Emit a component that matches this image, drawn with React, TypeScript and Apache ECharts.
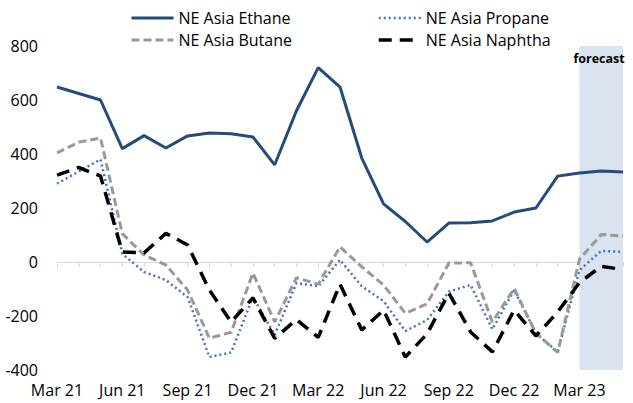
import React, { useEffect, useRef } from "react";
import * as echarts from "echarts";

const categories = [
  "Mar 21", "Apr 21", "May 21", "Jun 21", "Jul 21", "Aug 21", "Sep 21", "Oct 21", "Nov 21",
  "Dec 21", "Jan 22", "Feb 22", "Mar 22", "Apr 22", "May 22", "Jun 22", "Jul 22", "Aug 22",
  "Sep 22", "Oct 22", "Nov 22", "Dec 22", "Jan 23", "Feb 23", "Mar 23", "Apr 23", "May 23",
];

const ethane = [648, 624, 600, 420, 468, 422, 467, 478, 475, 463, 360, 560, 720, 648, 385, 215, 150, 74, 144, 145, 152, 185, 200, 318, 330, 337, 333];
const propane = [290, 335, 380, 30, -37, -67, -130, -352, -335, -130, -270, -78, -90, 8, -90, -145, -256, -215, -110, -85, -249, -104, -264, -333, -30, 41, 37];
const butane = [404, 444, 459, 105, 26, -11, -104, -282, -260, -41, -222, -58, -82, 56, -18, -85, -190, -155, -4, -3, -222, -98, -264, -335, 10, 102, 96];
const naphtha = [322, 350, 318, 37, 34, 106, 63, -104, -222, -133, -283, -213, -279, -82, -252, -178, -352, -266, -115, -259, -333, -178, -274, -185, -76, -16, -28];

const forecastStart = "Mar 23";
const forecastEnd = "May 23";
const yTicks = { min: -400, max: 800, interval: 200 };

const FONT = "'Open Sans', sans-serif";

export default function App() {
  const ref = useRef<HTMLDivElement>(null);
  useEffect(() => {
    if (!ref.current) return;
    const chart = echarts.init(ref.current, null, { renderer: "svg" });
    const legendCommon = {
      orient: "vertical" as const,
      top: 5,
      itemWidth: 42,
      itemHeight: 14,
      itemGap: 6,
      itemStyle: { color: "transparent", borderColor: "transparent", borderWidth: 0, opacity: 0 },
      lineStyle: { width: "inherit" },
      textStyle: { fontFamily: FONT, fontSize: 16, color: "#000" },
      selectedMode: false,
    };
    chart.setOption({
      animation: false,
      textStyle: { fontFamily: FONT },
      legend: [
        { ...legendCommon, left: 125, data: ["NE Asia Ethane", "NE Asia Butane"] },
        { ...legendCommon, left: 372, data: ["NE Asia Propane", "NE Asia Naphtha"] },
      ],
      grid: { left: 57, right: 10, top: 46, bottom: 33, containLabel: false },
      xAxis: [
        {
          type: "category",
          data: categories,
          boundaryGap: false,
          position: "bottom",
          axisLine: { show: false, onZero: false },
          axisTick: { show: false },
          axisLabel: { interval: 2, fontSize: 16, color: "#000", fontFamily: FONT, margin: 12 },
        },
        {
          type: "category",
          data: categories,
          boundaryGap: false,
          position: "top",
          axisLine: { show: true, onZero: true, lineStyle: { color: "#D9D9D9", width: 1 } },
          axisTick: { show: true, interval: 0, inside: true, length: 5, lineStyle: { color: "#D9D9D9" } },
          axisLabel: { show: false },
        },
      ],
      yAxis: {
        type: "value",
        min: yTicks.min,
        max: yTicks.max,
        interval: yTicks.interval,
        axisLine: { show: false },
        axisTick: { show: false },
        splitLine: { show: false },
        axisLabel: { fontSize: 16, color: "#000", fontFamily: FONT, margin: 19 },
      },
      graphic: [
        {
          type: "text",
          x: 599,
          y: 52,
          style: { text: "forecast", font: `bold 12.5px ${FONT}`, fill: "#000", align: "center" },
          z: 10,
        },
      ],
      series: [
        {
          type: "line",
          name: "forecastArea",
          data: [],
          clip: false,
          z: 1,
          markArea: {
            silent: true,
            itemStyle: { color: "#DAE3F0" },
            data: [[{ xAxis: forecastStart, yAxis: 815 }, { xAxis: forecastEnd, yAxis: yTicks.min }]],
          },
        },
        {
          type: "line",
          name: "NE Asia Ethane",
          data: ethane,
          symbol: "none",
          z: 3,
          color: "#254A7C",
          lineStyle: { color: "#254A7C", width: 3 },
        },
        {
          type: "line",
          name: "NE Asia Propane",
          data: propane,
          symbol: "none",
          z: 3,
          color: "#4472C4",
          lineStyle: { color: "#4472C4", width: 2.5, type: [2, 3] },
        },
        {
          type: "line",
          name: "NE Asia Butane",
          data: butane,
          symbol: "none",
          z: 3,
          color: "#999999",
          lineStyle: { color: "#999999", width: 3, type: [8, 4] },
        },
        {
          type: "line",
          name: "NE Asia Naphtha",
          data: naphtha,
          symbol: "none",
          z: 3,
          color: "#000000",
          lineStyle: { color: "#000000", width: 3.5, type: [13, 8] },
        },
      ],
    });
    return () => chart.dispose();
  }, []);
  return <div ref={ref} style={{ width: 633, height: 403, position: "absolute", left: 0, top: 0 }} />;
}
